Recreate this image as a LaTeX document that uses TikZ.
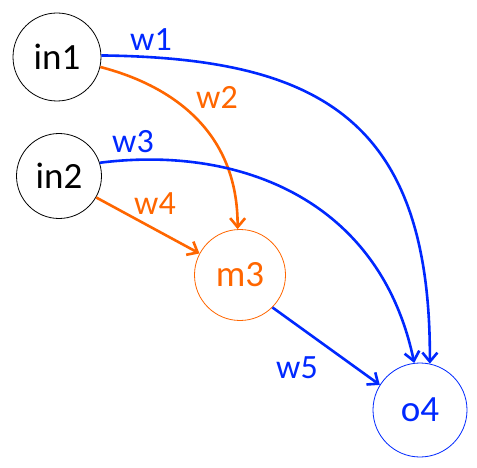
\documentclass[tikz,border=0pt]{standalone}
\usepackage{fontspec}
\setmainfont{Carlito}
\usetikzlibrary{arrows.meta}
\definecolor{myblue}{RGB}{0,40,255}
\definecolor{myorange}{RGB}{255,102,0}
\begin{document}
\begin{tikzpicture}[x=1pt,y=-1pt,
  neuron/.style={circle,draw,line width=0.8pt,inner sep=0pt,font=\fontsize{37}{42}\selectfont},
  conn/.style={line width=2.6pt,-{Straight Barb[length=9pt,width=15pt,line width=2.6pt]}},
  wlabel/.style={font=\fontsize{34}{40}\selectfont,inner sep=0pt}]
\useasboundingbox (0,0) rectangle (477,468);
\node[neuron,minimum size=88pt] (in1) at (57,57) {in1};
\node[neuron,minimum size=85pt] (in2) at (59,176) {in2};
\node[neuron,minimum size=91pt,draw=myorange,text=myorange] (m3) at (240,275) {m3};
\node[neuron,minimum size=94pt,draw=myblue,text=myblue] (o4) at (420,410) {o4};

\draw[conn,myblue] (in1.2) .. controls (320,58) and (431,120) .. (o4.78);
\draw[conn,myorange] (in1.-13) .. controls (170,85) and (238,130) .. (m3.93);
\draw[conn,myblue] (in2.18) .. controls (240,145) and (380,200) .. (o4.97);
\draw[conn,myorange] (in2.-30) -- (m3.152);
\draw[conn,myblue] (m3.-45) -- (o4.148);

\node[wlabel,text=myblue] (l1) at (151,40) {w1};
\node[wlabel,text=myorange] (l2) at (217,97) {w2};
\node[wlabel,text=myblue] (l3) at (133,142) {w3};
\node[wlabel,text=myorange] (l4) at (155,204) {w4};
\node[wlabel,text=myblue] (l5) at (297,368) {w5};
\end{tikzpicture}
\end{document}
